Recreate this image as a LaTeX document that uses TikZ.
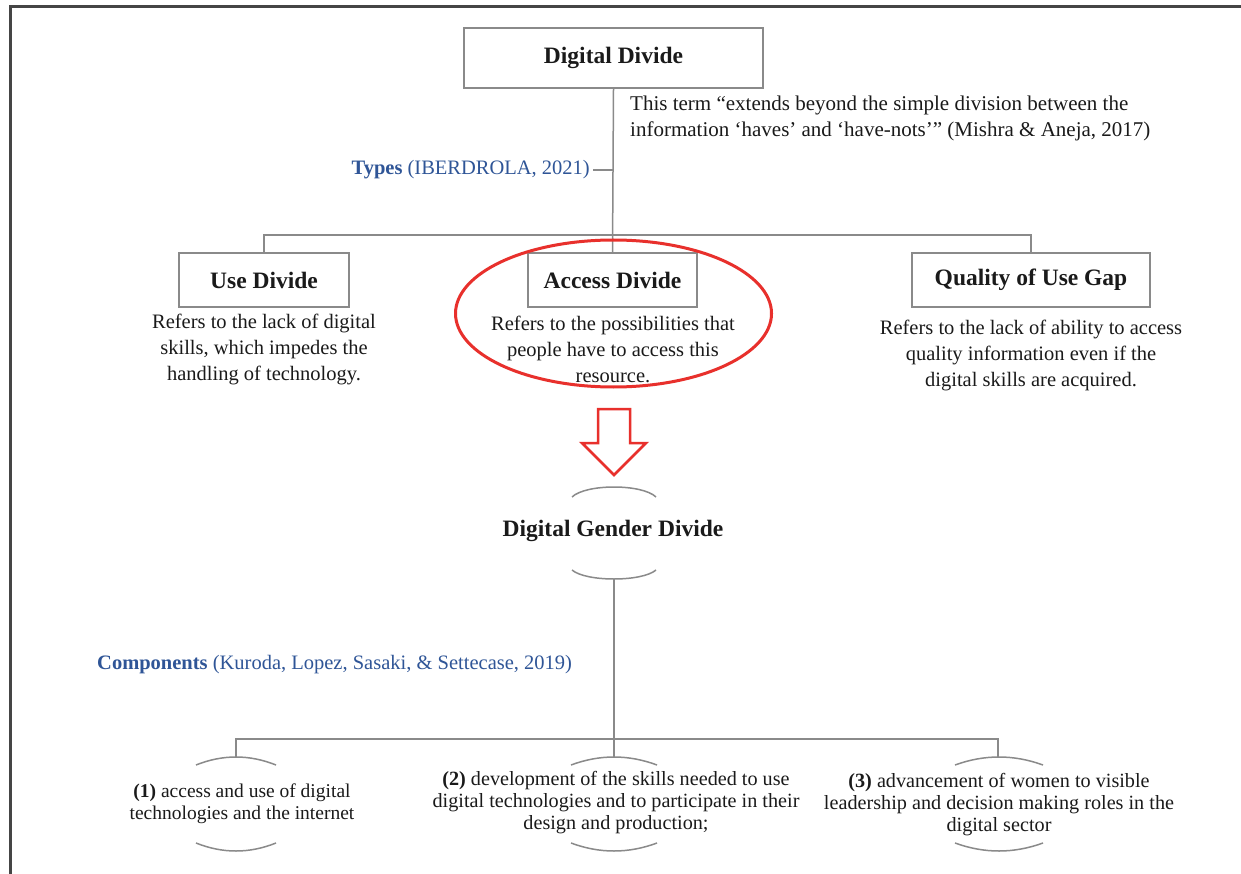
\documentclass[tikz,border=0pt]{standalone}
\usepackage{fontspec}
\setmainfont{Liberation Serif}
\usetikzlibrary{shapes.geometric}
\definecolor{cblue}{HTML}{2F5597}
\definecolor{cred}{HTML}{E8302C}
\definecolor{cline}{HTML}{8A8A8A}
\definecolor{cframe}{HTML}{454545}
\definecolor{ctext}{HTML}{1A1A1A}
\begin{document}
\begin{tikzpicture}[x=1pt,y=-1pt,
  box/.style={draw=cline, line width=1.5pt, inner sep=0pt, text=ctext,
    font=\fontsize{23.5}{28}\selectfont\bfseries},
  title/.style={inner sep=0pt, text=ctext, font=\fontsize{23.5}{28}\selectfont\bfseries},
  desc/.style={align=center, inner sep=0pt, text=ctext, font=\fontsize{20.5}{26}\selectfont},
  comp/.style={align=center, inner sep=0pt, text=ctext, font=\fontsize{20.2}{22}\selectfont},
  conn/.style={draw=cline, line width=1.5pt},
  brk/.style={draw=cline, line width=1.5pt},
  lbl/.style={text=cblue, inner sep=0pt, font=\fontsize{20.5}{26}\selectfont}]

\useasboundingbox[fill=white] (0,0) rectangle (1241,874);

% frame
\draw[cframe, line width=3pt] (10,874) -- (10,7) -- (1241,7);

% top box
\node[box, minimum width=299pt, minimum height=60pt] (dd) at (613.5,58) {Digital Divide};
\node[desc, align=left, anchor=west, font=\fontsize{21}{26}\selectfont] (quote) at (630,118)
  {This term “extends beyond the simple division between the\\
   information ‘haves’ and ‘have-nots’” (Mishra \& Aneja, 2017)};

% types label
\coordinate (bar) at (613,235);
\node[lbl, anchor=east] (types) at (590,170) {\textbf{Types} (IBERDROLA, 2021)};

% type boxes
\node[box, minimum width=170pt, minimum height=54pt] (use) at (264,280) {Use Divide};
\node[box, minimum width=169pt, minimum height=54pt] (acc) at (612.5,280) {Access Divide};
\node[box, minimum width=238pt, minimum height=54pt] (qual) at (1031,280) {Quality of Use Gap};

\draw[conn] (dd.south) -- (acc.north);
\draw[conn] ([xshift=3pt]types.east) -- (types.east -| dd.south);
\draw[conn] (use.north) -- (use.north |- bar) -- (qual.north |- bar) -- (qual.north);

% descriptions
\node[desc] (used) at (264,349) {Refers to the lack of digital\\ skills, which impedes the\\ handling of technology.};
\node[desc] (accd) at (613,349) {Refers to the possibilities that\\ people have to access this\\ resource.};
\node[desc] (quald) at (1031,355) {Refers to the lack of ability to access\\ quality information even if the\\ digital skills are acquired.};

% red ellipse
\node[ellipse, draw=cred, line width=3pt, minimum width=316pt, minimum height=147pt] (ell) at (613.5,313.5) {};

% red hollow arrow
\draw[cred, line width=2.5pt, line join=miter, fill=white]
  (598,409) -- (630,409) -- (630,443) -- (646,443) -- (614,475) -- (582,443) -- (598,443) -- cycle;

% digital gender divide
\node[title] (dgd) at (613,531) {Digital Gender Divide};
\draw[brk] (572,497) .. controls (586,483.67) and (642,483.67) .. (656,497);
\draw[brk] (572,570) .. controls (586,582) and (642,582) .. (656,570);
\coordinate (dgdB) at (614,579);

\node[lbl, anchor=west] (compl) at (97,665) {\textbf{Components} (Kuroda, Lopez, Sasaki, \& Settecase, 2019)};

\coordinate (bar2) at (613,739);
\coordinate (c1top) at (236,757);
\coordinate (c2top) at (614,757);
\coordinate (c3top) at (998,757);

\draw[conn] (dgdB) -- (c2top);
\draw[conn] (c1top) -- (c1top |- bar2) -- (c3top |- bar2) -- (c3top);

% component brackets
\foreach \cx/\hw in {236/40, 614/43, 999/44}{
  \draw[brk] (\cx-\hw,765) .. controls (\cx-\hw/3,754.33) and (\cx+\hw/3,754.33) .. (\cx+\hw,765);
  \draw[brk] (\cx-\hw,843) .. controls (\cx-\hw/3,853.67) and (\cx+\hw/3,853.67) .. (\cx+\hw,843);
}

\node[comp, font=\fontsize{19.5}{22}\selectfont] (c1) at (242,804) {\textbf{(1)} access and use of digital\\ technologies and the internet};
\node[comp] (c2) at (616,803) {\textbf{(2)} development of the skills needed to use\\ digital technologies and to participate in their\\ design and production;};
\node[comp] (c3) at (999,805) {\textbf{(3)} advancement of women to visible\\ leadership and decision making roles in the\\ digital sector};

\end{tikzpicture}
\end{document}
